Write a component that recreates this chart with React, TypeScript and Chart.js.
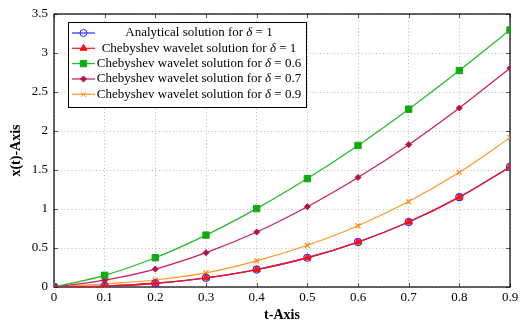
import React, { useEffect, useRef } from "react";
import { Chart, registerables } from "chart.js";

Chart.register(...registerables);

const tValues = [0, 0.1, 0.2, 0.3, 0.4, 0.5, 0.6, 0.7, 0.8, 0.9];
const analytical = [0, 0.011, 0.048, 0.117, 0.224, 0.375, 0.576, 0.833, 1.152, 1.539];
const cheb10 = [0, 0.011, 0.048, 0.117, 0.224, 0.375, 0.576, 0.833, 1.152, 1.539];
const cheb06 = [0, 0.15, 0.375, 0.665, 1.005, 1.39, 1.815, 2.28, 2.775, 3.295];
const cheb07 = [0, 0.088, 0.23, 0.44, 0.705, 1.03, 1.405, 1.825, 2.295, 2.805];
const cheb09 = [0, 0.04, 0.09, 0.18, 0.335, 0.535, 0.785, 1.095, 1.47, 1.915];

const legendPrefix = [
  "Analytical solution for ",
  "Chebyshev wavelet solution for ",
  "Chebyshev wavelet solution for ",
  "Chebyshev wavelet solution for ",
  "Chebyshev wavelet solution for ",
];
const legendDelta = ["1", "1", "0.6", "0.7", "0.9"];

const SERIF = "'Liberation Serif', 'DejaVu Serif', serif";

function drawMarker(ctx: CanvasRenderingContext2D, style: string, x: number, y: number, r: number, fill: string, stroke: string, lw: number) {
  ctx.save();
  ctx.beginPath();
  ctx.lineWidth = lw;
  ctx.strokeStyle = stroke;
  ctx.fillStyle = fill;
  if (style === "circle") {
    ctx.arc(x, y, r, 0, Math.PI * 2);
    ctx.fill();
    ctx.stroke();
  } else if (style === "triangle") {
    ctx.moveTo(x, y - r);
    ctx.lineTo(x + r * 0.87, y + r * 0.5);
    ctx.lineTo(x - r * 0.87, y + r * 0.5);
    ctx.closePath();
    ctx.fill();
    ctx.stroke();
  } else if (style === "rect") {
    const s = Math.SQRT1_2 * r;
    ctx.rect(x - s, y - s, 2 * s, 2 * s);
    ctx.fill();
    ctx.stroke();
  } else if (style === "rectRot") {
    ctx.moveTo(x, y - r);
    ctx.lineTo(x + r, y);
    ctx.lineTo(x, y + r);
    ctx.lineTo(x - r, y);
    ctx.closePath();
    ctx.fill();
    ctx.stroke();
  } else if (style === "crossRot") {
    const s = Math.SQRT1_2 * r;
    ctx.moveTo(x - s, y - s);
    ctx.lineTo(x + s, y + s);
    ctx.moveTo(x + s, y - s);
    ctx.lineTo(x - s, y + s);
    ctx.stroke();
  }
  ctx.restore();
}

const framePlugin = {
  id: "frame",
  beforeDatasetsDraw(chart: any) {
    const { ctx, chartArea } = chart;
    const { left, right, top, bottom } = chartArea;
    ctx.save();
    ctx.strokeStyle = "#333";
    ctx.lineWidth = 0.8;
    const xs = chart.scales.x;
    const ys = chart.scales.y;
    ctx.beginPath();
    xs.ticks.forEach((t: any) => {
      const px = Math.round(xs.getPixelForValue(t.value)) + 0.5;
      ctx.moveTo(px, bottom);
      ctx.lineTo(px, bottom - 4);
      ctx.moveTo(px, top);
      ctx.lineTo(px, top + 4);
    });
    ys.ticks.forEach((t: any) => {
      const py = Math.round(ys.getPixelForValue(t.value)) + 0.5;
      ctx.moveTo(left, py);
      ctx.lineTo(left + 4, py);
      ctx.moveTo(right, py);
      ctx.lineTo(right - 4, py);
    });
    ctx.stroke();
    ctx.strokeStyle = "#000";
    ctx.lineWidth = 1.2;
    ctx.strokeRect(left, top, right - left, bottom - top);
    ctx.restore();
  },
  afterDraw(chart: any) {
    const { ctx } = chart;
    const bx = 68, by = 22, bw = 238, bh = 85;
    ctx.save();
    ctx.fillStyle = "#fff";
    ctx.fillRect(bx, by, bw, bh);
    ctx.strokeStyle = "#000";
    ctx.lineWidth = 1;
    ctx.strokeRect(bx + 0.5, by + 0.5, bw, bh);
    const rowY = [33, 48.3, 63.6, 79, 94.3];
    const textCenter = 199;
    const fs = 13;
    chart.data.datasets.forEach((ds: any, i: number) => {
      const y = rowY[i];
      ctx.strokeStyle = ds.borderColor;
      ctx.lineWidth = 1.2;
      ctx.beginPath();
      ctx.moveTo(72, y);
      ctx.lineTo(95, y);
      ctx.stroke();
      drawMarker(ctx, ds.pointStyle, 83.5, y, ds.pointRadius, ds.pointBackgroundColor, ds.pointBorderColor, 1);
      const normal = `${fs}px ${SERIF}`;
      const italic = `italic ${fs}px ${SERIF}`;
      const p1 = legendPrefix[i];
      const p2 = "δ";
      const p3 = " = " + legendDelta[i];
      ctx.font = normal;
      const w1 = ctx.measureText(p1).width;
      const w3 = ctx.measureText(p3).width;
      ctx.font = italic;
      const w2 = ctx.measureText(p2).width;
      let x = textCenter - (w1 + w2 + w3) / 2;
      ctx.fillStyle = "#000";
      ctx.textBaseline = "middle";
      ctx.textAlign = "left";
      ctx.font = normal;
      ctx.fillText(p1, x, y);
      x += w1;
      ctx.font = italic;
      ctx.fillText(p2, x, y);
      x += w2;
      ctx.font = normal;
      ctx.fillText(p3, x, y);
    });
    ctx.restore();
  },
};

const gridOpts = { color: "#a8a8a8", lineWidth: 0.8, drawTicks: false, borderDash: [1, 2.5] };
const borderOpts = { display: false, dash: [1, 2.5] };

export default function App() {
  const ref = useRef<HTMLCanvasElement | null>(null);
  useEffect(() => {
    if (!ref.current) return;
    const mk = (data: number[]) => tValues.map((t, i) => ({ x: t, y: data[i] }));
    const chart = new Chart(ref.current, {
      type: "line",
      data: {
        datasets: [
          {
            label: "Analytical",
            data: mk(analytical),
            borderColor: "#2a2aff",
            pointStyle: "circle",
            pointRadius: 3.5,
            pointBackgroundColor: "rgba(255,255,255,0)",
            pointBorderColor: "#2a2aff",
            pointBorderWidth: 1.2,
            borderWidth: 1.3,
            order: 2,
          },
          {
            label: "Cheb 1",
            data: mk(cheb10),
            borderColor: "#ff1010",
            pointStyle: "triangle",
            pointRadius: 4,
            pointBackgroundColor: "#ff1010",
            pointBorderColor: "#ff1010",
            pointBorderWidth: 1,
            borderWidth: 1.3,
            order: 1,
          },
          {
            label: "Cheb 0.6",
            data: mk(cheb06),
            borderColor: "#22bb22",
            pointStyle: "rect",
            pointRadius: 4.5,
            pointBackgroundColor: "#11aa11",
            pointBorderColor: "#11aa11",
            pointBorderWidth: 1,
            borderWidth: 1.2,
            order: 3,
          },
          {
            label: "Cheb 0.7",
            data: mk(cheb07),
            borderColor: "#cc1a5a",
            pointStyle: "rectRot",
            pointRadius: 3,
            pointBackgroundColor: "#b8104a",
            pointBorderColor: "#b8104a",
            pointBorderWidth: 1,
            borderWidth: 1.2,
            order: 4,
          },
          {
            label: "Cheb 0.9",
            data: mk(cheb09),
            borderColor: "#ff9922",
            pointStyle: "crossRot",
            pointRadius: 3.5,
            pointBackgroundColor: "#ff8811",
            pointBorderColor: "#ff8811",
            pointBorderWidth: 1.2,
            borderWidth: 1.2,
            order: 5,
          },
        ] as any,
      },
      options: {
        animation: false,
        responsive: false,
        devicePixelRatio: 1,
        layout: { padding: { left: 0, right: 16, top: 14, bottom: 0 } },
        elements: { line: { cubicInterpolationMode: "monotone", fill: false } },
        plugins: { legend: { display: false }, tooltip: { enabled: false } },
        scales: {
          x: {
            type: "linear",
            min: 0,
            max: 0.9,
            afterFit: (s: any) => { s.height = 39; },
            ticks: {
              stepSize: 0.1,
              padding: 3,
              color: "#000",
              font: { family: SERIF, size: 13 },
              callback: (v: any) => String(Number(Number(v).toFixed(1))),
            },
            grid: gridOpts,
            border: borderOpts,
            title: {
              display: true,
              text: "t-Axis",
              color: "#000",
              font: { family: SERIF, size: 14, weight: "bold" },
              padding: { top: 0, bottom: 2 },
            },
          },
          y: {
            type: "linear",
            min: 0,
            max: 3.5,
            afterFit: (s: any) => { s.width = 54; },
            ticks: {
              stepSize: 0.5,
              padding: 6,
              color: "#000",
              font: { family: SERIF, size: 13 },
              callback: (v: any) => String(Number(Number(v).toFixed(1))),
            },
            grid: gridOpts,
            border: borderOpts,
            title: {
              display: true,
              text: "x(t)-Axis",
              color: "#000",
              font: { family: SERIF, size: 14, weight: "bold" },
              padding: { top: 8, bottom: 0 },
            },
          },
        },
      } as any,
      plugins: [framePlugin],
    });
    return () => chart.destroy();
  }, []);
  return (
    <div style={{ position: "absolute", left: 0, top: 0, width: 526, height: 326, background: "#fff" }}>
      <canvas ref={ref} width={526} height={326} style={{ width: 526, height: 326 }} />
    </div>
  );
}
